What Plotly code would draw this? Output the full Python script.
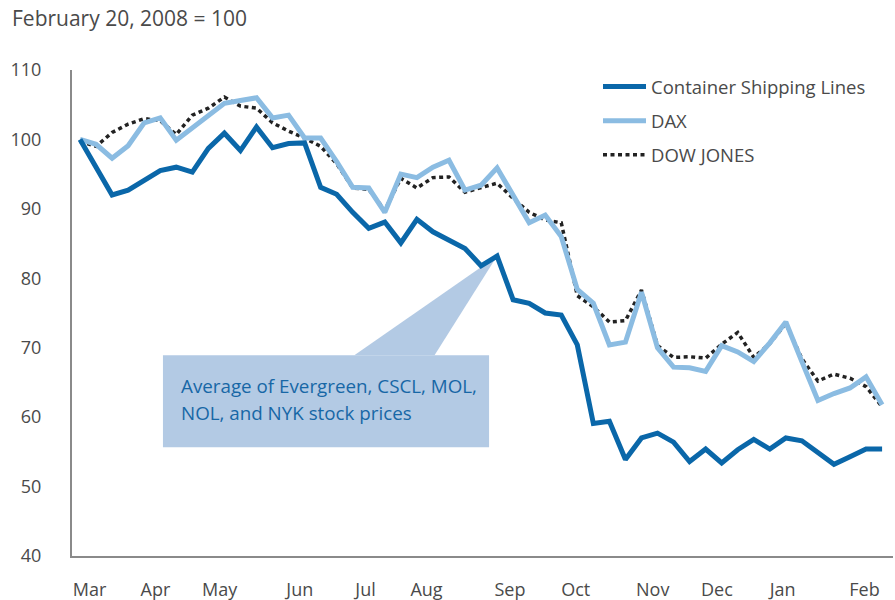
import plotly.graph_objects as go

weeks = list(range(51))

container = [100, 96, 92.0, 92.7, 94.1, 95.5, 96.0, 95.3, 98.7, 100.9,
             98.4, 101.8, 98.8, 99.4, 99.5, 93.1, 92.1, 89.5, 87.2, 88.1,
             85.1, 88.5, 86.7, 85.5, 84.3, 81.8, 83.2, 76.9, 76.4, 75.0,
             74.7, 70.4, 59.1, 59.4, 53.9, 57.0, 57.7, 56.4, 53.6, 55.4,
             53.4, 55.3, 56.8, 55.4, 57.0, 56.6, 55.0, 53.2, 54.3, 55.4, 55.4]

dax = [100, 99.3, 97.3, 99.1, 102.4, 103.1, 99.9, 101.7, 103.4, 105.2,
       105.6, 106.0, 103.1, 103.5, 100.2, 100.2, 96.8, 93.1, 93.0, 89.5,
       95.0, 94.5, 96.0, 97.0, 92.7, 93.4, 95.9, 92.0, 88.0, 89.1,
       86.0, 78.4, 76.4, 70.4, 70.8, 78.0, 70.0, 67.2, 67.1, 66.6,
       70.3, 69.4, 68.0, 70.7, 73.7, 68.0, 62.4, 63.4, 64.2, 65.8, 61.8]

dow = [99.7, 99.0, 101.0, 102.2, 103.0, 102.7, 100.7, 103.5, 104.5, 106.1,
       104.8, 104.5, 102.4, 101.2, 100.2, 99.0, 96.5, 93.0, 92.8, 89.8,
       94.4, 93.0, 94.5, 94.6, 92.4, 93.0, 93.7, 91.5, 89.5, 88.4,
       88.0, 77.5, 75.9, 73.7, 73.9, 78.3, 70.3, 68.6, 68.7, 68.5,
       70.5, 72.2, 68.6, 70.6, 73.5, 68.4, 65.2, 66.2, 65.6, 64.4, 61.5]

month_labels = ["Mar", "Apr", "May", "Jun", "Jul", "Aug", "Sep", "Oct", "Nov", "Dec", "Jan", "Feb"]
month_pos = [0.6, 4.7, 8.7, 13.7, 17.8, 21.6, 26.8, 30.9, 35.7, 39.7, 43.8, 48.9]
y_ticks = [40, 50, 60, 70, 80, 90, 100, 110]

title_text = "February 20, 2008 = 100"
callout_lines = ["Average of Evergreen, CSCL, MOL,", "NOL, and NYK stock prices"]
callout_idx = 26

FONT = "Open Sans, Noto Sans, sans-serif"
GREY = "#4a4a4a"

W, H = 895, 600
ML, MR, MT, MB = 72, 2, 70, 44
PW, PH = W - ML - MR, H - MT - MB

fig = go.Figure()
fig.add_trace(go.Scatter(x=weeks, y=dow, mode="lines", name="DOW JONES",
                         line=dict(color="#222222", width=3.5, dash="4px,3.5px"),
                         legendgroup="c", legendrank=3))
fig.add_trace(go.Scatter(x=weeks, y=dax, mode="lines", name="DAX",
                         line=dict(color="#8bbce2", width=5),
                         legendgroup="b", legendrank=2))
fig.add_trace(go.Scatter(x=weeks, y=container, mode="lines", name="Container Shipping Lines",
                         line=dict(color="#0a67a9", width=5),
                         legendgroup="a", legendrank=1))

# callout box and pointer
box_x0, box_x1 = 5.17, 25.5
box_y0, box_y1 = 55.68, 68.93
fig.add_shape(type="rect", xref="x", yref="y", x0=box_x0, x1=box_x1, y0=box_y0, y1=box_y1,
              fillcolor="#b3cae4", line=dict(width=0), layer="below")
apex_x, apex_y = weeks[callout_idx], container[callout_idx]
fig.add_shape(type="path", xref="x", yref="y",
              path=f"M 17.1 {box_y1} L {apex_x} {apex_y} L 22.1 {box_y1} Z",
              fillcolor="#b3cae4", line=dict(width=0), layer="below")
for k, line_text in enumerate(callout_lines):
    fig.add_annotation(x=box_x0 + 1.0, y=box_y1 - (31 + 27 * k) / (PH / 70), xref="x", yref="y",
                       text=line_text, showarrow=False, xanchor="left", yanchor="middle",
                       align="left", font=dict(family=FONT, size=18.8, color="#1767a6"))

fig.add_annotation(x=(10 - ML) / PW, y=1 + (MT - 18) / PH, xref="paper", yref="paper",
                   text=title_text, showarrow=False, xanchor="left", yanchor="middle",
                   font=dict(family=FONT, size=21, color=GREY))

fig.update_layout(
    width=W, height=H,
    margin=dict(l=ML, r=MR, t=MT, b=MB, autoexpand=False),
    paper_bgcolor="white", plot_bgcolor="white",
    font=dict(family=FONT, size=18, color=GREY),
    showlegend=True,
    legend=dict(x=(598 - ML) / PW, y=1.004, xanchor="left", yanchor="top",
                traceorder="grouped", tracegroupgap=7, itemwidth=43,
                font=dict(family=FONT, size=18.5, color=GREY),
                bgcolor="rgba(0,0,0,0)"),
    xaxis=dict(range=[-0.5, 50.68], tickvals=month_pos, ticktext=month_labels,
               showgrid=False, zeroline=False, showline=True, linecolor="#8a8a8a",
               linewidth=2, ticks="", ticklabelstandoff=16, automargin=False),
    yaxis=dict(range=[40, 110], tickvals=y_ticks, showgrid=False, zeroline=False,
               showline=True, linecolor="#8a8a8a", linewidth=2, ticks="",
               ticklabelstandoff=25, automargin=False),
)

fig.write_html("out.html", config={"displayModeBar": False},
               post_script="document.body.style.margin='0';document.body.style.overflow='hidden';")
